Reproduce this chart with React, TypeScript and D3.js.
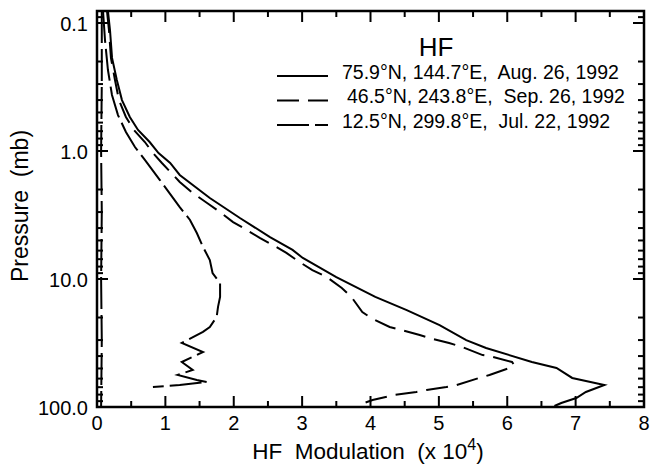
import React from 'react';
import * as d3 from 'd3';

// ---------- data ----------
const xTicks = [0, 1, 2, 3, 4, 5, 6, 7, 8];
const yTicks = [0.1, 1, 10, 100];
const yTickLabels = ['0.1', '1.0', '10.0', '100.0'];

const legendTitle = 'HF';
const seriesLabels = [
  '75.9°N, 144.7°E,  Aug. 26, 1992',
  '46.5°N, 243.8°E,  Sep. 26, 1992',
  '12.5°N, 299.8°E,  Jul. 22, 1992',
];

// 75.9N (solid)
const p1 = [0.0806, 0.1135, 0.1875, 0.279, 0.40, 0.542, 0.685, 0.851, 1.037, 1.241, 1.54, 2.33, 3.34, 4.70, 5.93, 6.85, 9.65, 13.8, 17.5, 22.9, 30.0, 34.6, 44.5, 49.6, 59.3, 67.3, 76.3, 85.1, 93.0, 98.2];
const v1 = [0.16, 0.19, 0.22, 0.29, 0.365, 0.48, 0.60, 0.77, 0.90, 1.07, 1.21, 1.65, 2.09, 2.53, 2.86, 3.01, 3.50, 4.07, 4.53, 5.01, 5.40, 5.69, 6.36, 6.72, 6.95, 7.42, 7.15, 7.01, 6.79, 6.69];

// 46.5N (dashed)
const p2 = [0.0806, 0.1135, 0.1875, 0.279, 0.40, 0.542, 0.685, 0.851, 1.037, 1.241, 1.746, 2.13, 2.55, 3.00, 3.59, 4.14, 4.78, 5.42, 6.26, 7.36, 8.51, 9.65, 11.75, 13.8, 18.1, 20.2, 23.7, 25.0, 27.4, 28.9, 31.6, 34.0, 39.3, 40.0, 44.5, 47.0, 49.6, 56.2, 59.3, 67.3, 69.8, 73.6, 76.3, 80.6, 88.2, 93.0, 98.2];
const v2 = [0.146, 0.175, 0.204, 0.263, 0.321, 0.423, 0.54, 0.70, 0.818, 0.949, 1.21, 1.40, 1.61, 1.80, 1.99, 2.19, 2.38, 2.57, 2.77, 2.96, 3.15, 3.36, 3.58, 3.72, 3.88, 4.01, 4.28, 4.45, 4.72, 4.86, 5.15, 5.34, 5.64, 5.74, 6.07, 6.10, 6.03, 5.74, 5.59, 5.26, 5.11, 4.82, 4.67, 4.35, 4.03, 3.91, 3.84];

// 12.5N (long dash)
const p3 = [0.0806, 0.136, 0.233, 0.365, 0.524, 0.711, 0.931, 1.175, 1.686, 2.74, 3.46, 4.37, 5.62, 7.11, 8.98, 10.74, 13.8, 16.5, 19.8, 23.7, 25.9, 31.6, 37.2, 44.5, 51.4, 56.2, 61.5, 63.8, 67.3, 69.8];
const v3 = [0.088, 0.117, 0.16, 0.219, 0.307, 0.423, 0.555, 0.70, 0.92, 1.21, 1.36, 1.46, 1.55, 1.65, 1.69, 1.80, 1.80, 1.77, 1.75, 1.65, 1.55, 1.24, 1.55, 1.24, 1.40, 1.18, 1.46, 1.61, 1.21, 0.818];

// near-zero long-dash trace along the left axis
const p4 = [0.0806, 0.3, 1, 3, 10, 30, 100];
const v4 = [0.07, 0.07, 0.06, 0.07, 0.06, 0.07, 0.06];

const dashes = [null, '22,9', '32,6', '32,6'];

// ---------- layout ----------
const W = 651, H = 465;
const L = 97, R = 644, T = 11, B = 407;
const FONT = '"Liberation Sans", Arial, Helvetica, sans-serif';

export default function App() {
  const x = d3.scaleLinear().domain([0, 8]).range([L, R]);
  const y = d3.scaleLog().domain([0.0806, 100]).range([T, B]);

  const mk = (p: number[], v: number[]) => p.map((pp, i) => [pp, v[i]] as [number, number]);
  const line = d3.line<[number, number]>().x(d => x(d[1])).y(d => y(d[0]));
  const series = [mk(p1, v1), mk(p2, v2), mk(p3, v3), mk(p4, v4)];

  const xMinor = d3.range(0.5, 8, 1);
  const yMinor = y.ticks().filter(t => t > 0.081 && t < 100 && !yTicks.some(m => Math.abs(m - t) < 1e-9));

  const major = 11, minor = 6;

  return (
    <svg width={W} height={H} style={{ position: 'absolute', left: 0, top: 0, background: '#fff' }} fontFamily={FONT}>
      <rect x={0} y={0} width={W} height={H} fill="#fff" />
      <defs>
        <clipPath id="plot"><rect x={L} y={T} width={R - L} height={B - T} /></clipPath>
      </defs>
      {/* curves */}
      <g clipPath="url(#plot)" fill="none" stroke="#000" strokeWidth={2}>
        {series.map((s, i) => (
          <path key={i} d={line(s) || ''} strokeDasharray={dashes[i] || undefined} />
        ))}
      </g>
      {/* ticks */}
      <g stroke="#000" strokeWidth={2}>
        {xTicks.map(t => (
          <g key={'xt' + t}>
            <line x1={x(t)} x2={x(t)} y1={B} y2={B - major} />
            <line x1={x(t)} x2={x(t)} y1={T} y2={T + major} />
          </g>
        ))}
        {xMinor.map(t => (
          <g key={'xm' + t}>
            <line x1={x(t)} x2={x(t)} y1={B} y2={B - minor} />
            <line x1={x(t)} x2={x(t)} y1={T} y2={T + minor} />
          </g>
        ))}
        {yTicks.map(t => (
          <g key={'yt' + t}>
            <line x1={L} x2={L + major} y1={y(t)} y2={y(t)} />
            <line x1={R} x2={R - major} y1={y(t)} y2={y(t)} />
          </g>
        ))}
        {yMinor.map(t => (
          <g key={'ym' + t}>
            <line x1={L} x2={L + minor} y1={y(t)} y2={y(t)} />
            <line x1={R} x2={R - minor} y1={y(t)} y2={y(t)} />
          </g>
        ))}
      </g>
      {/* frame */}
      <rect x={L} y={T} width={R - L} height={B - T} fill="none" stroke="#000" strokeWidth={2.5} />
      {/* tick labels */}
      <g fontSize={20} fill="#000">
        {xTicks.map(t => (
          <text key={'xl' + t} x={x(t)} y={430} textAnchor="middle">{t}</text>
        ))}
        {yTicks.map((t, i) => (
          <text key={'yl' + t} x={88} y={y(t) + 8} textAnchor="end">{yTickLabels[i]}</text>
        ))}
      </g>
      {/* axis titles */}
      <text x={368} y={459} textAnchor="middle" fontSize={22.5} style={{ whiteSpace: 'pre' }}>
        {'HF  Modulation  (x 10'}<tspan fontSize={16} dy={-9}>4</tspan><tspan dy={9}>)</tspan>
      </text>
      <text transform={`translate(28,206) rotate(-90)`} textAnchor="middle" fontSize={23} style={{ whiteSpace: 'pre' }}>
        {'Pressure  (mb)'}
      </text>
      {/* legend */}
      <text x={436} y={56} textAnchor="middle" fontSize={26}>{legendTitle}</text>
      {seriesLabels.map((lab, i) => {
        const ly = 76 + i * 24.5;
        return (
          <g key={'lg' + i}>
            <line x1={277} x2={328} y1={ly} y2={ly} stroke="#000" strokeWidth={2} strokeDasharray={dashes[i] || undefined} />
            <text x={i === 1 ? 347 : 342} y={ly + 2.5} fontSize={19.5} style={{ whiteSpace: 'pre' }}>{lab}</text>
          </g>
        );
      })}
    </svg>
  );
}
